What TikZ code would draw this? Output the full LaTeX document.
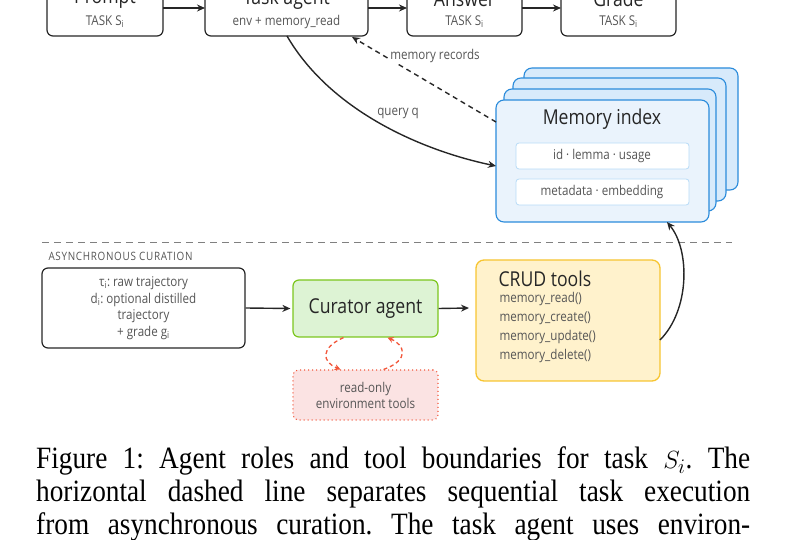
\documentclass[tikz,border=0pt]{standalone}
\usepackage{fontspec}
\setmainfont{Liberation Serif}[FakeStretch=0.88]
\newfontfamily\dsans{Open Sans}[FakeStretch=0.86]
\usetikzlibrary{arrows.meta}
\definecolor{txtgray}{HTML}{555555}
\definecolor{memblue}{HTML}{2A8BDB}
\definecolor{memfill}{HTML}{EAF3FC}
\definecolor{memback}{HTML}{D7EAFB}
\definecolor{inbord}{HTML}{B7DBF7}
\definecolor{grnb}{HTML}{7CC61E}
\definecolor{grnf}{HTML}{DDF3D4}
\definecolor{yelb}{HTML}{F7C531}
\definecolor{yelf}{HTML}{FFF2CC}
\definecolor{redb}{HTML}{F2563A}
\definecolor{redf}{HTML}{FBE3E3}
\begin{document}
\frenchspacing
\begin{tikzpicture}[x=1pt,y=-1pt,
  box/.style={draw=black!85,line width=1.2pt,rounded corners=6pt,fill=white},
  ttl/.style={font=\dsans\fontsize{20.5}{22}\selectfont,text=black!85},
  sub/.style={font=\dsans\fontsize{13.5}{15}\selectfont,text=txtgray},
  arr/.style={-{Stealth[length=8pt,width=7pt]},line width=1.4pt,black!85},
  lbl/.style={font=\dsans\fontsize{13.5}{15}\selectfont,text=txtgray,fill=white,inner sep=1pt}]
\useasboundingbox (0,0) rectangle (788,540);
% top row
\foreach \n/\xa/\xb/\t/\s in {p/47/163/Prompt/TASK S\textsubscript{i}, t/205/368/Task agent/env + memory\_read, a/407/522/Answer/TASK S\textsubscript{i}, g/561/676/Grade/TASK S\textsubscript{i}}{
  \draw[box] (\xa,-25) rectangle (\xb,36);
  \coordinate (\n) at ({(\xa+\xb)/2},8);
  \node[ttl] at ({(\xa+\xb)/2},-1) {\t};
  \node[sub] at ({(\xa+\xb)/2},22) {\s};
}
\coordinate (pr) at (163,8); \coordinate (tl) at (205,8);
\coordinate (tr) at (368,8); \coordinate (al) at (407,8);
\coordinate (ar) at (522,8); \coordinate (gl) at (561,8);
\draw[arr] (pr) -- (tl);
\draw[arr] (tr) -- (al);
\draw[arr] (ar) -- (gl);
% memory stack
\draw[draw=memblue,fill=memback,line width=1.1pt,rounded corners=8pt] (524,68) rectangle (738,190);
\draw[draw=memblue,fill=memback,line width=1.1pt,rounded corners=8pt] (513,78) rectangle (726,201);
\draw[draw=memblue,fill=memback,line width=1.1pt,rounded corners=8pt] (504,89) rectangle (716,211);
\draw[draw=memblue,fill=memfill,line width=1.1pt,rounded corners=8pt] (496,100) rectangle (709,222);
\node[ttl] (mem) at (602,119) {Memory index};
\draw[draw=inbord,fill=white,rounded corners=3pt,line width=0.8pt] (516,143) rectangle (689,169);
\node[sub] at (602,156) {id · lemma · usage};
\draw[draw=inbord,fill=white,rounded corners=3pt,line width=0.8pt] (516,179) rectangle (689,205);
\node[sub] at (602,192) {metadata · embedding};
\coordinate (tb) at (287,36); \coordinate (ml) at (496,166);
\coordinate (tbr) at (352,37); \coordinate (mlt) at (496,122);
\coordinate (mb) at (667,222);
\draw[arr] (tb) .. controls (330,110) and (420,150) .. (ml);
\node[lbl] at (398,113) {query q};
\draw[arr,dash pattern=on 5pt off 4pt] (mlt) -- (tbr);
\node[lbl] at (435,56) {memory records};
% separator
\draw[black!50,line width=1pt,dash pattern=on 7pt off 5pt] (42,243) -- (732,243);
\node[anchor=west,font=\dsans\fontsize{11.5}{12}\selectfont\addfontfeature{LetterSpace=6},text=txtgray] at (45,256) {ASYNCHRONOUS CURATION};
% bottom
\node[box,minimum width=203pt,minimum height=80pt,align=center,font=\dsans\fontsize{13.5}{16.5}\selectfont,text=txtgray] (in) at (143.5,308) {τ\textsubscript{i}: raw trajectory\\d\textsubscript{i}: optional distilled\\trajectory\\+ grade g\textsubscript{i}};
\node[draw=grnb,fill=grnf,line width=1.2pt,rounded corners=6pt,minimum width=145pt,minimum height=57pt,ttl] (cur) at (365.5,308.5) {Curator agent};
\draw[draw=yelb,fill=yelf,line width=1.3pt,rounded corners=8pt] (476,260) rectangle (660,381);
\node[ttl,anchor=west] at (495,279) {CRUD tools};
\node[sub,anchor=north west,align=left,font=\dsans\fontsize{13.5}{19}\selectfont] at (496,289) {memory\_read()\\memory\_create()\\memory\_update()\\memory\_delete()};
\coordinate (crl) at (469,308); \coordinate (crr) at (660,340);
\node[draw=redb,fill=redf,line width=1.1pt,dash pattern=on 1pt off 3pt,rounded corners=5pt,minimum width=145pt,minimum height=50pt,align=center,font=\dsans\fontsize{13.5}{16}\selectfont,text=txtgray] (ro) at (365.5,395) {read-only\\environment tools};
\draw[arr] (in.east) -- ([xshift=-2pt]cur.west);
\draw[arr] (cur.east) -- (crl);
\draw[arr] (crr) .. controls (690,310) and (690,250) .. (mb);
\draw[-{Stealth[length=6pt,width=6pt]},line width=1.3pt,redb,dash pattern=on 4pt off 3pt] ([xshift=-22pt]cur.south) .. controls (320,348) and (322,362) .. ([xshift=-25pt]ro.north);
\draw[-{Stealth[length=6pt,width=6pt]},line width=1.3pt,redb,dash pattern=on 4pt off 3pt] ([xshift=18pt]ro.north) .. controls (410,360) and (405,345) .. ([xshift=22pt]cur.south);
% caption
\node[anchor=north west,inner sep=0pt,align=left,font=\fontsize{31}{33}\selectfont] at (36,446) {%
\makebox[714pt][s]{Figure 1: Agent roles and tool boundaries for task $S_i$. The}\\
\makebox[714pt][s]{horizontal dashed line separates sequential task execution}\\
\makebox[714pt][s]{from asynchronous curation. The task agent uses environ-}};
\end{tikzpicture}
\end{document}
